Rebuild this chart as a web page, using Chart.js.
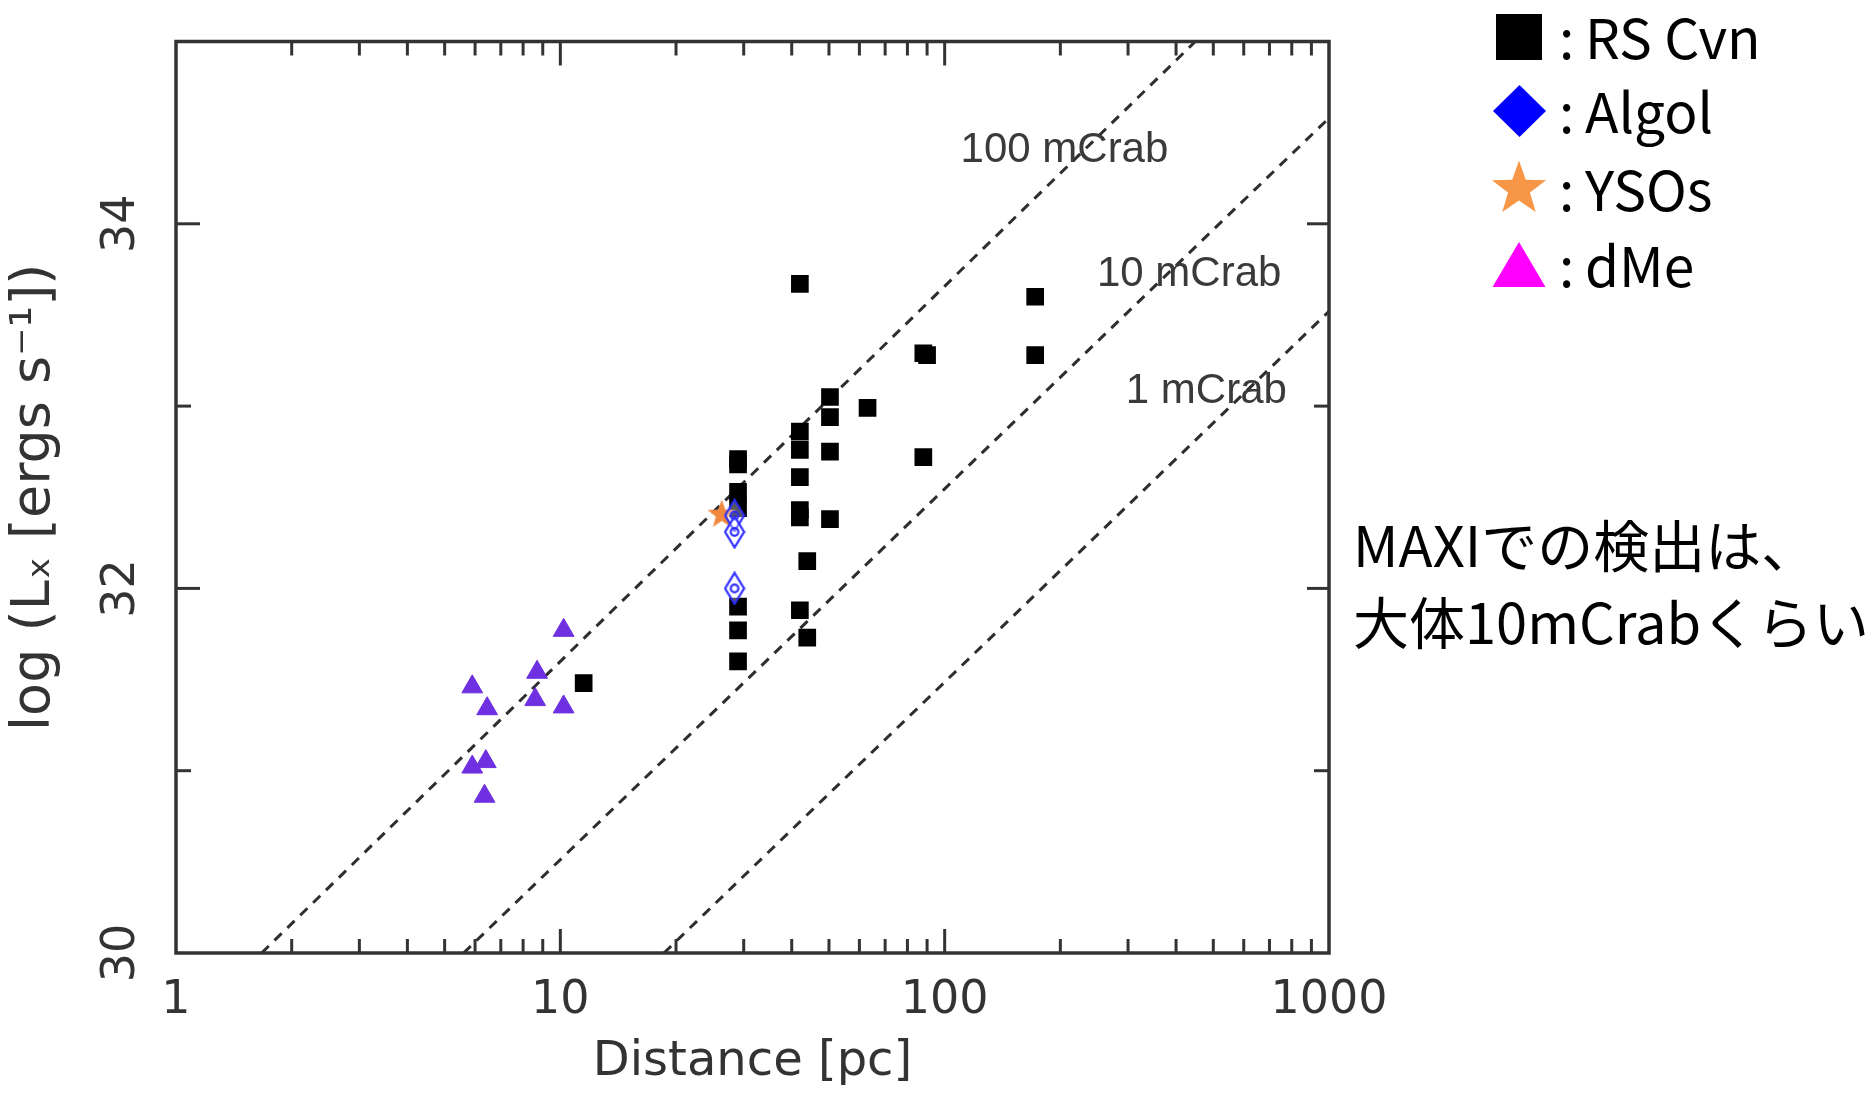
<!DOCTYPE html>
<html>
<head>
<meta charset="utf-8">
<script src="https://cdn.jsdelivr.net/npm/chart.js@4.4.1/dist/chart.umd.min.js"></script>
<style>
  html, body { margin: 0; padding: 0; background: #ffffff; }
  #wrap { width: 1868px; height: 1093px; position: relative; }
</style>
</head>
<body>
<div id="wrap"><canvas id="c" width="1868" height="1093"></canvas></div>
<script>
// ---------------- data ----------------
const rsCvnDistance = [11.5, 29, 29, 29, 29, 29, 29, 29, 42, 42, 42, 42, 42, 42, 43.9, 42, 43.9, 50.3, 50.3, 50.3, 50.3, 63, 88, 90, 88, 172, 172];
const rsCvnLogLx    = [31.48, 32.71, 32.68, 32.53, 32.44, 31.90, 31.77, 31.60, 33.67, 32.86, 32.76, 32.61, 32.43, 32.39, 32.15, 31.88, 31.73, 33.05, 32.94, 32.75, 32.38, 32.99, 33.29, 33.28, 32.72, 33.60, 33.28];
const algolDistance = [28.4, 28.4, 28.4];
const algolLogLx    = [32.40, 32.31, 32.00];
const ysoDistance   = [26.3];
const ysoLogLx      = [32.41];
const dMeDistance   = [10.2, 8.7, 5.9, 8.6, 10.2, 6.45, 6.4, 5.9, 6.35];
const dMeLogLx      = [31.77, 31.54, 31.46, 31.39, 31.35, 31.34, 31.05, 31.02, 30.86];

// constant-flux lines: end points (distance [pc], log Lx)
const fluxLineNames    = ['100 mCrab', '10 mCrab', '1 mCrab'];
const fluxLineDistance = [[1.67, 449], [5.6, 1000], [18.6, 1000]];
const fluxLineLogLx    = [[30, 35], [30, 34.58], [30, 33.52]];

// axes
const xTickLabels = [1, 10, 100, 1000];
const xMajorTicks = [10, 100];
const xMinorTicks = [2, 3, 4, 5, 6, 7, 8, 9, 20, 30, 40, 50, 60, 70, 80, 90, 200, 300, 400, 500, 600, 700, 800, 900];
const yTickLabels = [30, 32, 34];
const yMajorTicks = [32, 34];
const yMinorTicks = [31, 33];

const legendNames = ['RS Cvn', 'Algol', 'YSOs', 'dMe'];
const noteLines = ['MAXIでの検出は、', '大体10mCrabくらい'];

// ---------------- helpers ----------------
function pts(xs, ys) { return xs.map((v, i) => ({ x: v, y: ys[i] })); }

function starPath(g, cx, cy, ro, ri) {
  g.beginPath();
  for (let k = 0; k < 10; k++) {
    const r = k % 2 === 0 ? ro : ri;
    const a = -Math.PI / 2 + k * Math.PI / 5;
    const px = cx + r * Math.cos(a), py = cy + r * Math.sin(a);
    if (k === 0) g.moveTo(px, py); else g.lineTo(px, py);
  }
  g.closePath();
}

function makeDiamond() {
  const c = document.createElement('canvas');
  c.width = 22; c.height = 34;
  const g = c.getContext('2d');
  g.strokeStyle = '#2b2bff'; g.lineWidth = 2.2;
  g.beginPath(); g.moveTo(11, 1.5); g.lineTo(20.5, 17); g.lineTo(11, 32.5); g.lineTo(1.5, 17); g.closePath();
  g.fillStyle = 'rgba(255,255,255,0.35)'; g.fill(); g.stroke();
  g.beginPath(); g.arc(11, 17, 3.8, 0, Math.PI * 2); g.stroke();
  return c;
}
function makeStar() {
  const c = document.createElement('canvas');
  c.width = 32; c.height = 32;
  const g = c.getContext('2d');
  starPath(g, 16, 17, 15, 6.2);
  g.fillStyle = '#f0883e'; g.fill();
  return c;
}

// ---------------- plugins ----------------
const framePlugin = {
  id: 'frameTicks',
  afterDatasetsDraw(chart) {
    const { ctx, chartArea: a, scales: { x, y } } = chart;
    ctx.save();
    ctx.strokeStyle = '#333333';
    ctx.lineWidth = 3;
    const seg = (x1, y1, x2, y2) => { ctx.beginPath(); ctx.moveTo(x1, y1); ctx.lineTo(x2, y2); ctx.stroke(); };
    xMinorTicks.forEach(v => { const p = x.getPixelForValue(v); seg(p, a.bottom, p, a.bottom - 14); seg(p, a.top, p, a.top + 14); });
    xMajorTicks.forEach(v => { const p = x.getPixelForValue(v); seg(p, a.bottom, p, a.bottom - 24); seg(p, a.top, p, a.top + 24); });
    yMinorTicks.forEach(v => { const p = y.getPixelForValue(v); seg(a.left, p, a.left + 15, p); seg(a.right, p, a.right - 15, p); });
    yMajorTicks.forEach(v => { const p = y.getPixelForValue(v); seg(a.left, p, a.left + 24, p); seg(a.right, p, a.right - 22, p); });
    ctx.lineWidth = 3.5;
    ctx.strokeRect(a.left, a.top, a.right - a.left, a.bottom - a.top);

    // y tick labels (rotated)
    ctx.fillStyle = '#333333';
    ctx.font = '46px "DejaVu Sans"';
    ctx.textAlign = 'center';
    ctx.textBaseline = 'middle';
    yTickLabels.forEach(v => {
      const p = y.getPixelForValue(v);
      ctx.save(); ctx.translate(122, p); ctx.rotate(-Math.PI / 2); ctx.fillText(String(v), 0, 0); ctx.restore();
    });

    // flux line labels
    const fl = chart.options.plugins.frameTicks.labels;
    ctx.font = '42px "Liberation Sans"';
    ctx.fillStyle = '#3a3a3a';
    ctx.textAlign = 'left';
    fl.forEach((l, i) => {
      ctx.fillText(fluxLineNames[i], x.getPixelForValue(l.d), y.getPixelForValue(l.L));
    });
    ctx.restore();
  }
};

const sidePlugin = {
  id: 'sideLegend',
  afterDraw(chart) {
    const ctx = chart.ctx;
    ctx.save();
    // symbols
    ctx.fillStyle = '#000000';
    ctx.fillRect(1496, 14, 46, 46);
    ctx.fillStyle = '#0000ff';
    ctx.beginPath(); ctx.moveTo(1519.5, 85); ctx.lineTo(1546, 111); ctx.lineTo(1519.5, 137); ctx.lineTo(1493, 111); ctx.closePath(); ctx.fill();
    ctx.fillStyle = '#f79646';
    starPath(ctx, 1519, 189, 28.5, 11.5); ctx.fill();
    ctx.fillStyle = '#ff00ff';
    ctx.beginPath(); ctx.moveTo(1519, 242); ctx.lineTo(1545.5, 287); ctx.lineTo(1492.5, 287); ctx.closePath(); ctx.fill();

    ctx.fillStyle = '#000000';
    ctx.textAlign = 'left';
    ctx.textBaseline = 'alphabetic';
    ctx.font = '55px "Noto Sans CJK JP"';
    const bases = [59, 133, 211, 287];
    legendNames.forEach((n, i) => {
      ctx.fillText(':', 1559, bases[i]);
      ctx.fillText(n, 1585, bases[i]);
    });
    ctx.font = '56px "Noto Sans CJK JP"';
    ctx.fillText(noteLines[0], 1353, 567);
    ctx.fillText(noteLines[1], 1353, 644);
    ctx.restore();
  }
};

// ---------------- chart ----------------
const diamondImg = makeDiamond();
const starImg = makeStar();

const lineSets = fluxLineNames.map((n, i) => ({
  label: n,
  data: pts(fluxLineDistance[i], fluxLineLogLx[i]),
  showLine: true,
  borderColor: '#2e2e2e',
  borderWidth: 3,
  borderDash: [10, 8],
  pointRadius: 0,
  fill: false,
  order: 4
}));

new Chart(document.getElementById('c'), {
  type: 'scatter',
  data: {
    datasets: [
      { label: 'Algol', data: pts(algolDistance, algolLogLx), pointStyle: diamondImg, order: 0 },
      { label: 'YSOs', data: pts(ysoDistance, ysoLogLx), pointStyle: starImg, order: 1 },
      { label: 'RS Cvn', data: pts(rsCvnDistance, rsCvnLogLx), pointStyle: 'rect', pointRadius: 12.5,
        backgroundColor: '#000000', borderColor: '#000000', borderWidth: 0, order: 2 },
      { label: 'dMe', data: pts(dMeDistance, dMeLogLx), pointStyle: 'triangle', pointRadius: 12,
        backgroundColor: '#6e30e0', borderColor: '#6e30e0', borderWidth: 1, order: 3 },
      ...lineSets
    ]
  },
  options: {
    responsive: false,
    animation: false,
    events: [],
    layout: { padding: { top: 41.5, right: 539, bottom: 0, left: 0 } },
    plugins: {
      legend: { display: false },
      tooltip: { enabled: false },
      frameTicks: { labels: [ { d: 110, L: 34.40 }, { d: 249, L: 33.72 }, { d: 296, L: 33.08 } ] }
    },
    scales: {
      x: {
        type: 'logarithmic', min: 1, max: 1000, position: 'bottom',
        afterBuildTicks: s => { s.ticks = xTickLabels.map(v => ({ value: v })); },
        afterFit: s => { s.height = 140; },
        grid: { display: false, drawTicks: false },
        border: { display: false },
        ticks: { autoSkip: false, maxRotation: 0, minRotation: 0, padding: 20, color: '#333333',
                 font: { family: 'DejaVu Sans', size: 46 }, callback: v => String(v) },
        title: { display: true, text: 'Distance [pc]', color: '#333333',
                 font: { family: 'DejaVu Sans', size: 48 }, padding: { top: 0, bottom: 2 } }
      },
      y: {
        type: 'linear', min: 30, max: 35, position: 'left',
        afterFit: s => { s.width = 176; },
        grid: { display: false, drawTicks: false },
        border: { display: false },
        ticks: { display: false },
        title: { display: true, text: 'log (Lₓ [ergs s⁻¹])', color: '#333333',
                 font: { family: 'DejaVu Sans', size: 54 }, padding: { top: 3, bottom: 0 } }
      }
    }
  },
  plugins: [framePlugin, sidePlugin]
});
</script>
</body>
</html>
